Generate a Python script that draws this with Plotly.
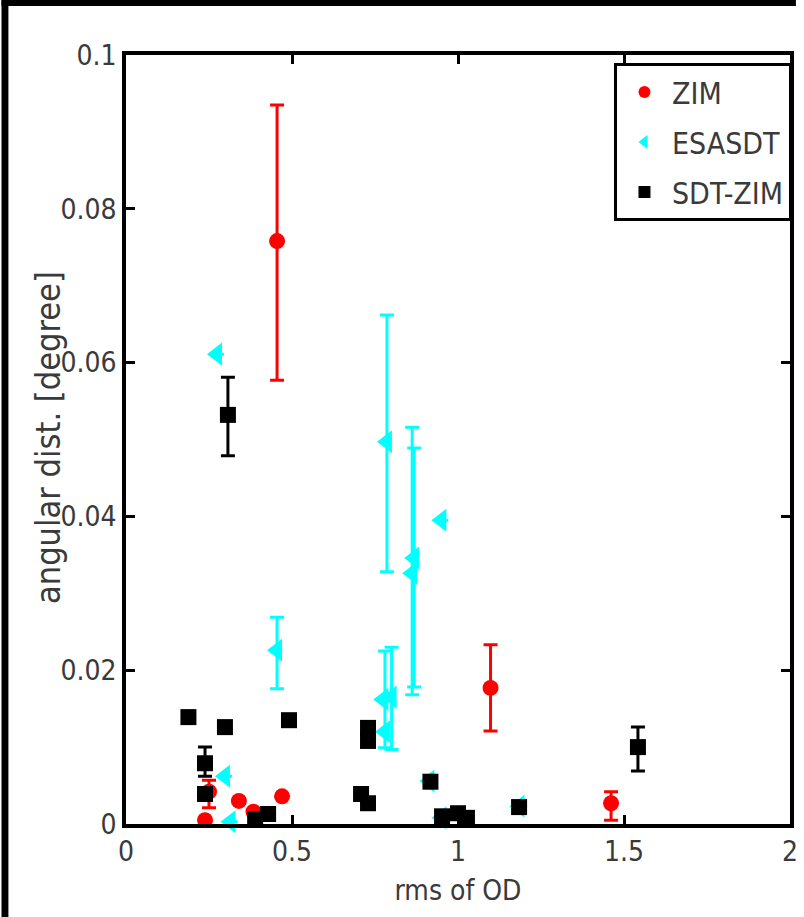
import plotly.graph_objects as go

# ---------------- data ----------------
zim_x = [0.455, 1.098, 1.461, 0.470, 0.250, 0.238, 0.340, 0.384]
zim_y = [0.0758, 0.0177, 0.0027, 0.0036, 0.0042, 0.0005, 0.0030, 0.0016]
zim_hi = [0.0935, 0.0233, 0.0042, None, 0.0057, None, None, None]
zim_lo = [0.0577, 0.0121, 0.0005, None, 0.0021, None, None, None]

esa_x = [0.274, 0.786, 0.868, 0.862, 0.950, 0.455, 0.780, 0.800, 0.775, 0.298, 0.315, 0.914, 0.950, 1.185]
esa_y = [0.0611, 0.0497, 0.0346, 0.0326, 0.0395, 0.0226, 0.0120, 0.0165, 0.0162, 0.0062, 0.0003, 0.0056, 0.0008, 0.0023]
esa_hi = [None, 0.0662, 0.0489, 0.0516, None, 0.0269, 0.0225, 0.0230, None, None, None, None, None, None]
esa_lo = [None, 0.0328, 0.0178, 0.0168, None, 0.0176, 0.0099, 0.0097, None, None, None, None, None, None]

sdt_x = [0.307, 0.188, 0.298, 0.491, 0.729, 0.729, 0.238, 0.238, 0.389, 0.428, 0.708, 0.729, 0.917, 0.952, 1.000, 1.027, 1.184, 1.542]
sdt_y = [0.0532, 0.0139, 0.0126, 0.0135, 0.0125, 0.0108, 0.0079, 0.0039, 0.0006, 0.0013, 0.0039, 0.0027, 0.0055, 0.0010, 0.0014, 0.0008, 0.0022, 0.0100]
sdt_hi = [0.0581, None, None, None, None, None, 0.0100, None, None, None, None, None, None, None, None, None, None, 0.0126]
sdt_lo = [0.0479, None, None, None, None, None, 0.0062, None, None, None, None, None, None, None, None, None, None, 0.0069]

x_ticks = [0, 0.5, 1, 1.5, 2]
x_tick_labels = ["0", "0.5", "1", "1.5", "2"]
y_ticks = [0, 0.02, 0.04, 0.06, 0.08, 0.1]
y_tick_labels = ["0", "0.02", "0.04", "0.06", "0.08", "0.1"]

# ---------------- helpers ----------------
def err_arrays(y, hi, lo):
    up = [(h - v) if h is not None else float("nan") for v, h in zip(y, hi)]
    dn = [(v - l) if l is not None else float("nan") for v, l in zip(y, lo)]
    return up, dn

FONT = "Liberation Sans Narrow, Arial Narrow, DejaVu Sans Condensed, sans-serif"
TXT = "#3a3a3a"

fig = go.Figure()

series = [
    ("ZIM", zim_x, zim_y, zim_hi, zim_lo, "#ff0000", "circle", 16),
    ("ESASDT", esa_x, esa_y, esa_hi, esa_lo, "#00ffff", "triangle-left", 20),
    ("SDT-ZIM", sdt_x, sdt_y, sdt_hi, sdt_lo, "#000000", "square", 16),
]
for name, xs, ys, hi, lo, col, sym, sz in series:
    up, dn = err_arrays(ys, hi, lo)
    fig.add_trace(go.Scatter(
        x=xs, y=ys, mode="markers", name=name, legendgroup=name,
        marker=dict(color=col, symbol=sym, size=sz, line=dict(width=0)),
        error_y=dict(type="data", symmetric=False, array=up, arrayminus=dn,
                     color=col, thickness=3, width=7),
        cliponaxis=False,
    ))

L, R, T, B = 126, 6, 55, 93
W, H = 804, 917
pw, ph = W - L - R, H - T - B

axis_common = dict(
    showline=True, linecolor="black", linewidth=3.5, mirror="ticks",
    ticks="inside", ticklen=9, tickwidth=3, tickcolor="black",
    showgrid=False, zeroline=False,
    tickfont=dict(family=FONT, size=28, color=TXT),
)

fig.update_xaxes(range=[0, 2], tickvals=x_ticks, ticktext=x_tick_labels,
                 title=dict(text="rms of OD", font=dict(family=FONT, size=28, color=TXT), standoff=14),
                 **axis_common)
fig.update_yaxes(range=[0, 0.1], tickvals=y_ticks, ticktext=y_tick_labels,
                 **axis_common)

# y-axis title as rotated annotation
fig.add_annotation(text="angular dist. [degree]", textangle=-90,
                   xref="paper", yref="paper", x=(47 - L) / pw, y=(H - B - 437) / ph,
                   xanchor="center", yanchor="middle", showarrow=False,
                   font=dict(family=FONT, size=34, color=TXT))

# black frame on left and top edges of the picture
fig.add_shape(type="rect", xref="paper", yref="paper",
              x0=-L / pw, x1=(7 - L) / pw, y0=-B / ph, y1=(H - B) / ph,
              fillcolor="black", line=dict(width=0), layer="above")
fig.add_shape(type="rect", xref="paper", yref="paper",
              x0=-L / pw, x1=(W - L) / pw, y0=(T - 6) / ph + 1, y1=T / ph + 1,
              fillcolor="black", line=dict(width=0), layer="above")

fig.update_layout(
    width=W, height=H,
    margin=dict(l=L, r=R, t=T, b=B),
    paper_bgcolor="white", plot_bgcolor="white",
    showlegend=True,
    legend=dict(x=(800 - L) / pw, xanchor="right", y=(H - B - 63) / ph, yanchor="top",
                bgcolor="white", bordercolor="black", borderwidth=3,
                font=dict(family=FONT, size=30, color=TXT),
                itemsizing="constant", itemwidth=45,
                traceorder="grouped", tracegroupgap=8),
)

fig.write_html("out.html")
